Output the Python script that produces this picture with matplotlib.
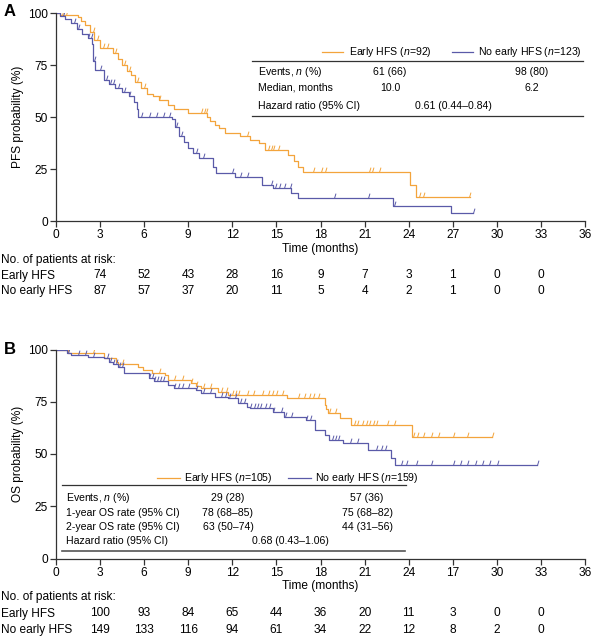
import numpy as np
import matplotlib
matplotlib.use('Agg')
from matplotlib import pyplot as plt
from matplotlib.lines import Line2D
from matplotlib.transforms import blended_transform_factory

plt.rcParams['font.family'] = ['Liberation Sans', 'DejaVu Sans']
plt.rcParams['mathtext.fontset'] = 'custom'
plt.rcParams['mathtext.rm'] = 'Liberation Sans'
plt.rcParams['mathtext.it'] = 'Liberation Sans:italic'

ORANGE = '#f3a43c'
BLUE = '#5a5aa8'
DARK = '#333333'
W, H = 592, 644

# --- PFS (panel A) ---
pfs_early_t = [0, 0.3, 1.5, 1.7, 2.0, 2.3, 2.6, 3.0, 3.9, 4.2, 4.5, 4.8, 5.1, 5.4, 5.8, 6.2, 6.6, 7.0,
               7.6, 8.0, 9.0, 10.3, 10.5, 10.8, 11.1, 11.5, 12.5, 13.2, 13.8, 14.2, 15.8, 16.2, 16.5,
               16.8, 24.1, 24.5]
pfs_early_s = [100, 99, 98, 96, 94, 91, 87, 83, 81, 78, 75, 72, 70, 67, 64, 61, 60, 58,
               56, 54, 52, 50, 48, 46, 44.5, 42.5, 41, 39, 37.5, 34, 31.7, 29, 26,
               23.7, 17.3, 11.7]
pfs_early_end = 28.2
pfs_early_cens = [0.4, 0.7, 2.5, 2.8, 3.2, 3.5, 4.0, 4.6, 5.0, 5.5, 6.0, 7.0, 9.9, 10.1, 10.2, 13.0,
                  14.4, 14.6, 14.8, 15.1, 17.5, 18.0, 18.3, 21.3, 21.5, 22.0, 24.7, 25.0, 28.1]

pfs_no_t = [0, 0.3, 0.6, 1.0, 1.4, 1.8, 2.2, 2.45, 2.55, 2.65, 3.3, 3.6, 4.0, 4.5, 5.0, 5.3, 5.5,
            5.6, 7.9, 8.1, 8.4, 8.7, 9.0, 9.3, 9.7, 10.7, 10.9, 12.2, 14.0, 14.8, 16.0, 16.5, 22.9,
            26.9]
pfs_no_s = [100, 98.5, 97, 95, 92.5, 90, 88, 85, 77, 72.5, 68, 66, 64, 62, 60, 57, 54,
            50, 49, 45, 41, 38, 35, 32.5, 30.3, 26, 23, 21, 17.3, 15.8, 13.4, 11, 7.2,
            3.8]
pfs_no_end = 28.4
pfs_no_cens = [0.5, 1.2, 1.5, 2.2, 2.4, 2.6, 3.0, 3.4, 3.7, 3.9, 4.2, 4.6, 5.0, 5.8, 6.3, 6.8, 7.3,
               7.7, 8.2, 8.5, 9.5, 10.0, 12.0, 12.5, 13.0, 14.6, 14.9, 15.2, 15.5, 15.9, 18.9, 21.2,
               23.0, 28.4]

# --- OS (panel B) ---
os_early_t = [0, 0.8, 3.3, 4.1, 4.2, 5.6, 5.9, 6.5, 7.4, 7.6, 9.2, 9.5, 9.9, 11.0, 11.7, 15.7, 18.3,
              18.4, 18.5, 19.3, 20.1, 24.2]
os_early_s = [100, 98.5, 95.8, 94.2, 93, 91.8, 90.4, 88.6, 87.8, 85.4, 84.1, 82.5, 81.4, 79.8, 78.2,
              76.6, 73.6, 71.5, 69.5, 67, 63.9, 58.3]
os_early_end = 29.7
os_early_cens = [0.3, 0.6, 2.5, 4.5, 7.0, 8.0, 8.6, 9.2, 9.5, 10.0, 10.5, 11.2, 11.6, 12.0, 12.2,
                 12.4, 13.0, 13.4, 14.0, 14.4, 14.7, 15.0, 15.4, 16.5, 16.9, 17.2, 17.5, 17.8, 18.6,
                 19.0, 20.3, 20.5, 20.8, 21.1, 21.3, 21.6, 21.8, 22.5, 23.0, 24.3, 24.6, 25.0, 25.5,
                 26.0, 27.0, 28.0, 29.7]

os_no_t = [0, 0.75, 1.0, 2.2, 3.3, 3.6, 3.9, 4.2, 4.6, 6.3, 6.7, 7.6, 8.0, 9.5, 9.9, 10.8, 11.7, 12.4,
           13.0, 13.2, 14.8, 15.5, 17.0, 17.6, 18.3, 18.6, 19.5, 21.2, 22.8, 23.1]
os_no_s = [100, 98.2, 97.4, 96.6, 95.8, 94, 93, 91.5, 88.6, 86.3, 85, 83, 81.4, 80.6, 79, 77.4, 76.6,
           74.2, 72.6, 71.9, 70.2, 67.9, 66.3, 61.5, 59.1, 56.7, 55.1, 51.9, 48, 44.7]
os_no_end = 32.7
os_no_cens = [0.2, 0.4, 0.6, 0.8, 1.5, 2.0, 2.5, 3.5, 3.7, 3.9, 4.1, 4.3, 4.5, 6.3, 6.5, 6.7, 6.9, 7.1,
              7.3, 8.0, 8.3, 8.6, 9.0, 9.5, 10.0, 10.5, 11.2, 11.5, 11.8, 12.2, 12.5, 12.8, 13.2,
              13.5, 13.7, 13.9, 14.2, 14.5, 14.8, 15.3, 15.6, 16.0, 17.0, 17.3, 18.8, 19.0, 19.2,
              20.0, 20.5, 21.8, 22.1, 22.4, 23.5, 23.8, 24.5, 25.5, 27.0, 27.5, 28.0, 28.5, 29.0,
              29.5, 30.0, 32.7]

# risk tables
risk_months = [3, 6, 9, 12, 15, 18, 21, 24, 27, 30, 33]
pfs_risk_early = [74, 52, 43, 28, 16, 9, 7, 3, 1, 0, 0]
pfs_risk_no = [87, 57, 37, 20, 11, 5, 4, 2, 1, 0, 0]
os_risk_early = [100, 93, 84, 65, 44, 36, 20, 11, 3, 0, 0]
os_risk_no = [149, 133, 116, 94, 61, 34, 22, 12, 8, 2, 0]

xticks = [0, 3, 6, 9, 12, 15, 18, 21, 24, 27, 30, 33, 36]
xtick_labels_a = ['0', '3', '6', '9', '12', '15', '18', '21', '24', '27', '30', '33', '36']
xtick_labels_b = ['0', '3', '6', '9', '12', '15', '18', '21', '24', '17', '30', '33', '36']

FS = 7.6    # table text
FS2 = 8.6   # axis / risk text
cens_marker = [(0, 0), (0.3, 1)]


def fx(px):
    return px / W


def fy(py):
    return 1 - py / H


def km(ax, t, s, end, cens, color):
    tt = list(t) + [end]
    ss = list(s) + [s[-1]]
    ax.step(tt, ss, where='post', color=color, lw=0.9)
    idx = np.searchsorted(np.array(t), np.array(cens), side='right') - 1
    cy = np.array(s)[idx]
    ax.plot(cens, cy, ls='none', marker=cens_marker, ms=7, mec=color, mfc='none', mew=0.7)


def setup(ax, ylabel, labels):
    ax.set_xlim(0, 36)
    ax.set_ylim(0, 100)
    ax.set_xticks(xticks)
    ax.set_xticklabels(labels)
    ax.set_yticks([0, 25, 50, 75, 100])
    for side in ('top', 'right'):
        ax.spines[side].set_visible(False)
    for side in ('left', 'bottom'):
        ax.spines[side].set_color(DARK)
        ax.spines[side].set_linewidth(0.9)
    ax.tick_params(direction='out', length=4, width=0.9, color=DARK, labelsize=FS2, pad=2)
    ax.set_xlabel('Time (months)', fontsize=FS2, labelpad=1)
    ax.set_ylabel(ylabel, fontsize=FS2, labelpad=3)


def risk(fig, ax, y0, step, early, no):
    tr = blended_transform_factory(ax.transData, fig.transFigure)
    fig.text(fx(1), fy(y0), 'No. of patients at risk:', fontsize=FS2, va='center')
    fig.text(fx(1), fy(y0 + step), 'Early HFS', fontsize=FS2, va='center')
    fig.text(fx(1), fy(y0 + 2 * step), 'No early HFS', fontsize=FS2, va='center')
    for m, a, b in zip(risk_months, early, no):
        fig.text(m, fy(y0 + step), str(a), transform=tr, fontsize=FS2, ha='center', va='center')
        fig.text(m, fy(y0 + 2 * step), str(b), transform=tr, fontsize=FS2, ha='center', va='center')


def hline(fig, x0, x1, py, color=DARK, lw=0.9):
    fig.add_artist(Line2D([fx(x0), fx(x1)], [fy(py), fy(py)], color=color, lw=lw))


fig = plt.figure(figsize=(W / 100, H / 100), dpi=100)
axA = fig.add_axes([fx(56), fy(221), fx(585) - fx(56), fy(13) - fy(221)])
axB = fig.add_axes([fx(56), fy(558.5), fx(585) - fx(56), fy(349.5) - fy(558.5)])

km(axA, pfs_early_t, pfs_early_s, pfs_early_end, pfs_early_cens, ORANGE)
km(axA, pfs_no_t, pfs_no_s, pfs_no_end, pfs_no_cens, BLUE)
setup(axA, 'PFS probability (%)', xtick_labels_a)

km(axB, os_early_t, os_early_s, os_early_end, os_early_cens, ORANGE)
km(axB, os_no_t, os_no_s, os_no_end, os_no_cens, BLUE)
setup(axB, 'OS probability (%)', xtick_labels_b)

fig.text(fx(10), fy(12), 'A', fontsize=12, fontweight='bold', va='center', ha='center')
fig.text(fx(10), fy(349), 'B', fontsize=12, fontweight='bold', va='center', ha='center')

# panel A summary table
fig.add_artist(Line2D([fx(322), fx(343)], [fy(52), fy(52)], color=ORANGE, lw=0.9))
fig.text(fx(349), fy(52), 'Early HFS ($n$=92)', fontsize=FS, va='center')
fig.add_artist(Line2D([fx(452), fx(473)], [fy(52), fy(52)], color=BLUE, lw=0.9))
fig.text(fx(478), fy(52), 'No early HFS ($n$=123)', fontsize=FS, va='center')
hline(fig, 252, 583, 61)
hline(fig, 252, 583, 116)
rows_a = [('Events, $n$ (%)', '61 (66)', '98 (80)', 72),
          ('Median, months', '10.0', '6.2', 88)]
for lab, a, b, py in rows_a:
    fig.text(fx(258), fy(py), lab, fontsize=FS, va='center')
    fig.text(fx(390), fy(py), a, fontsize=FS, va='center', ha='center')
    fig.text(fx(532), fy(py), b, fontsize=FS, va='center', ha='center')
fig.text(fx(258), fy(106), 'Hazard ratio (95% CI)', fontsize=FS, va='center')
fig.text(fx(453), fy(106), '0.61 (0.44–0.84)', fontsize=FS, va='center', ha='center')

# panel B summary table
fig.add_artist(Line2D([fx(157), fx(180)], [fy(478), fy(478)], color=ORANGE, lw=0.9))
fig.text(fx(184), fy(478), 'Early HFS ($n$=105)', fontsize=FS, va='center')
fig.add_artist(Line2D([fx(288), fx(311)], [fy(478), fy(478)], color=BLUE, lw=0.9))
fig.text(fx(315), fy(478), 'No early HFS ($n$=159)', fontsize=FS, va='center')
hline(fig, 62, 406, 485)
hline(fig, 62, 405, 551, color='#555555', lw=1.2)
rows_b = [('Events, $n$ (%)', '29 (28)', '57 (36)', 498),
          ('1-year OS rate (95% CI)', '78 (68–85)', '75 (68–82)', 513.5),
          ('2-year OS rate (95% CI)', '63 (50–74)', '44 (31–56)', 527)]
for lab, a, b, py in rows_b:
    fig.text(fx(66), fy(py), lab, fontsize=FS, va='center')
    fig.text(fx(228), fy(py), a, fontsize=FS, va='center', ha='center')
    fig.text(fx(367), fy(py), b, fontsize=FS, va='center', ha='center')
fig.text(fx(66), fy(541), 'Hazard ratio (95% CI)', fontsize=FS, va='center')
fig.text(fx(290), fy(541), '0.68 (0.43–1.06)', fontsize=FS, va='center', ha='center')

risk(fig, axA, 260, 15.5, pfs_risk_early, pfs_risk_no)
risk(fig, axB, 597, 16.5, os_risk_early, os_risk_no)

fig.savefig('out.png', dpi=100)
